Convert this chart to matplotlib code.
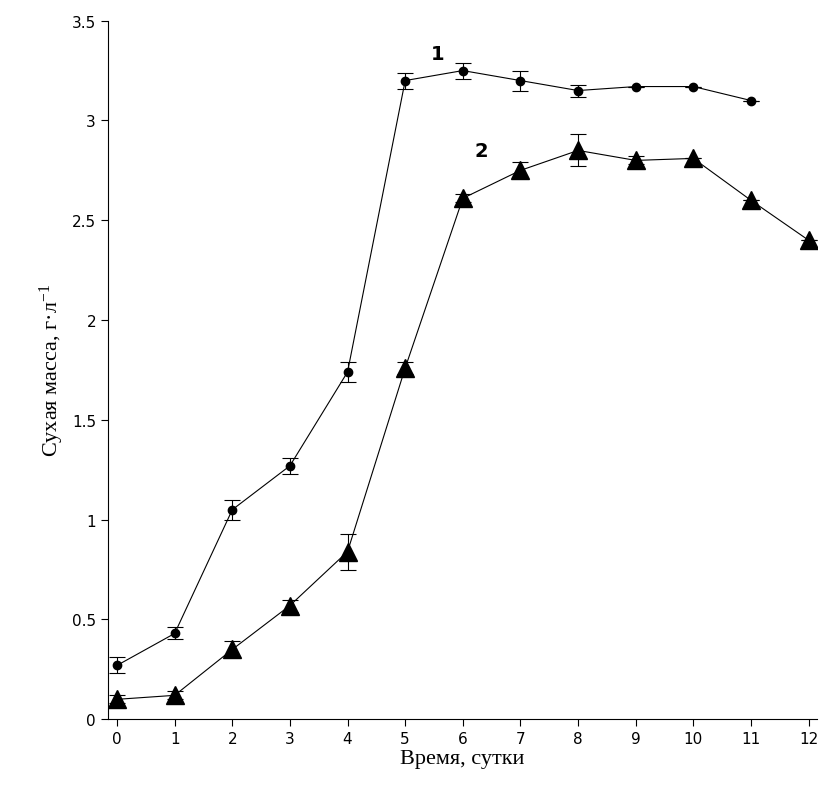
import matplotlib
matplotlib.use("Agg")
import matplotlib.pyplot as plt

days1 = [0,1,2,3,4,5,6,7,8,9,10,11]
mass1 = [0.27,0.43,1.05,1.27,1.74,3.20,3.25,3.20,3.15,3.17,3.17,3.10]
err1 = [0.04,0.03,0.05,0.04,0.05,0.04,0.04,0.05,0.03,0,0,0]
days2 = [0,1,2,3,4,5,6,7,8,9,10,11,12]
mass2 = [0.10,0.12,0.35,0.57,0.84,1.76,2.61,2.75,2.85,2.80,2.81,2.60,2.40]
err2 = [0.02,0.02,0.04,0.03,0.09,0.03,0.02,0.04,0.08,0.02,0,0,0]

plt.rcParams['font.family'] = ['Liberation Serif', 'DejaVu Serif']
plt.rcParams['mathtext.fontset'] = 'custom'
plt.rcParams['mathtext.rm'] = 'Liberation Serif'
plt.rcParams['mathtext.default'] = 'regular'
fig = plt.figure(figsize=(8.23,8.03), dpi=100)
ax = fig.add_axes([0.131,0.103,0.862,0.870])
ax.errorbar(days1, mass1, yerr=err1, color='black', lw=0.8, marker='o', ms=6,
            capsize=6, elinewidth=0.8, capthick=0.8)
ax.errorbar(days2, mass2, yerr=err2, color='black', lw=0.8, marker='^', ms=13,
            capsize=6, elinewidth=0.8, capthick=0.8)
ax.text(5.45, 3.31, '1', fontsize=14, fontweight='bold', family='DejaVu Sans')
ax.text(6.2, 2.82, '2', fontsize=14, fontweight='bold', family='DejaVu Sans')
ax.set_xlim(-0.16, 12.15)
ax.set_ylim(0, 3.5)
ax.set_xticks(range(13))
ax.set_yticks([0,0.5,1,1.5,2,2.5,3,3.5])
ax.set_yticklabels(['0','0.5','1','1.5','2','2.5','3','3.5'])
for lab in ax.get_xticklabels()+ax.get_yticklabels():
    lab.set_family('DejaVu Sans'); lab.set_fontsize(11)
ax.spines['top'].set_visible(False)
ax.spines['right'].set_visible(False)
ax.tick_params(direction='out', length=5)
ax.set_xlabel('Время, сутки', fontsize=16, labelpad=2)
ax.set_ylabel('Сухая масса, г·л$^{-1}$', fontsize=16)
fig.savefig('out.png', dpi=100)
